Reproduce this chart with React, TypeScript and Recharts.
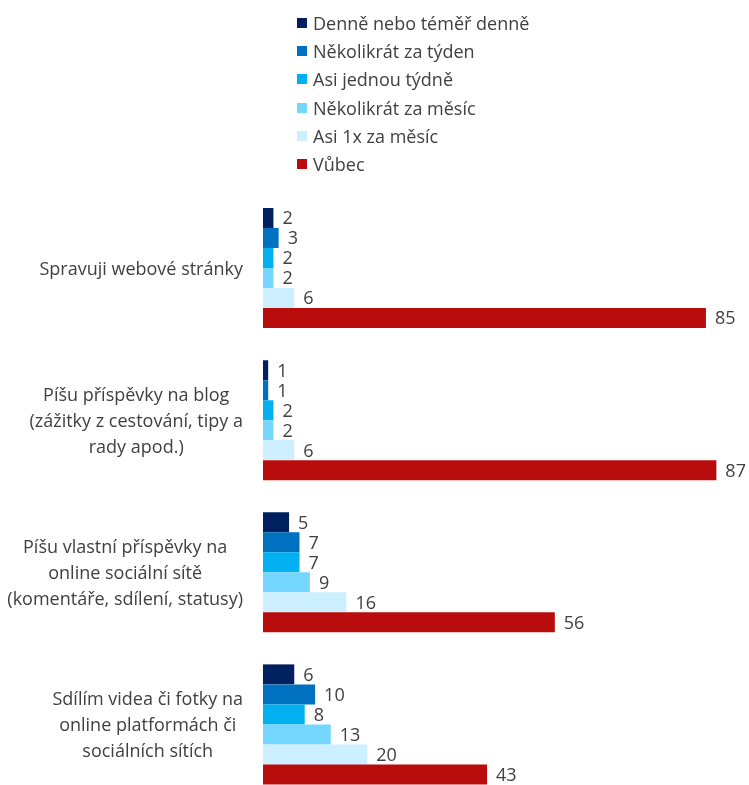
import { Bar, BarChart, LabelList, Legend, XAxis, YAxis } from 'recharts';

const CATEGORIES = [
  'Spravuji webové stránky',
  'Píšu příspěvky na blog\n(zážitky z cestování, tipy a\nrady apod.)',
  'Píšu vlastní příspěvky na\nonline sociální sítě\n(komentáře, sdílení, statusy)',
  'Sdílím videa či fotky na\nonline platformách či\nsociálních sítích',
];

const SERIES_NAMES = [
  'Denně nebo téměř denně',
  'Několikrát za týden',
  'Asi jednou týdně',
  'Několikrát za měsíc',
  'Asi 1x za měsíc',
  'Vůbec',
];

const DAILY = [2, 1, 5, 6];
const FEW_PER_WEEK = [3, 1, 7, 10];
const ONCE_WEEK = [2, 2, 7, 8];
const FEW_PER_MONTH = [2, 2, 9, 13];
const ONCE_MONTH = [6, 6, 16, 20];
const NEVER = [85, 87, 56, 43];

const COLORS = ['#002060', '#0070C0', '#00B0F0', '#75D6FF', '#CCF0FF', '#B90C0C'];

const FONT = '"Open Sans", sans-serif';
const TEXT = '#404040';
const FONT_SIZE = 18;

const SERIES = [DAILY, FEW_PER_WEEK, ONCE_WEEK, FEW_PER_MONTH, ONCE_MONTH, NEVER];
const KEYS = SERIES.map((_, i) => `s${i}`);

const data = CATEGORIES.map((category, ci) => {
  const row: Record<string, string | number> = { category };
  SERIES.forEach((values, si) => {
    row[KEYS[si]] = values[ci];
  });
  return row;
});

let ctx: CanvasRenderingContext2D | null = null;
function textWidth(s: string) {
  if (!ctx) ctx = document.createElement('canvas').getContext('2d');
  if (!ctx) return s.length * 9;
  ctx.font = `${FONT_SIZE}px ${FONT}`;
  return ctx.measureText(s).width;
}

// excel-style label: lines centred inside a block that is right-aligned to the axis
function CategoryTick(props: any) {
  const { x, y, payload } = props;
  const lines = String(payload.value).split('\n');
  const blockW = Math.max(...lines.map(textWidth));
  const cx = x - blockW / 2;
  const lh = 26;
  const y0 = y - ((lines.length - 1) * lh) / 2;
  return (
    <text x={cx} y={y0} textAnchor="middle" fill={TEXT} fontSize={FONT_SIZE} fontFamily={FONT}>
      {lines.map((l, i) => (
        <tspan key={i} x={cx} y={y0 + i * lh} dy="0.35em">
          {l}
        </tspan>
      ))}
    </text>
  );
}

// keep the series order (recharts sorts legend items by name otherwise)
function LegendList() {
  return (
    <ul style={{ listStyle: 'none', margin: 0, padding: 0 }}>
      {SERIES_NAMES.map((name, i) => (
        <li
          key={name}
          style={{ display: 'flex', alignItems: 'center', height: 28.2, color: TEXT, fontSize: FONT_SIZE, whiteSpace: 'nowrap' }}
        >
          <span style={{ width: 10, height: 10, background: COLORS[i], marginRight: 6, display: 'inline-block' }} />
          {name}
        </li>
      ))}
    </ul>
  );
}

export default function App() {
  return (
    <div style={{ position: 'fixed', left: 8, top: 8, fontFamily: FONT }}>
      <BarChart
        width={741}
        height={793}
        data={data}
        layout="vertical"
        margin={{ top: 184.5, right: 17, bottom: 0, left: 0 }}
        barCategoryGap={15.5}
        barGap={0}
      >
        <XAxis type="number" domain={[0, 90]} hide />
        <YAxis
          type="category"
          dataKey="category"
          width={255}
          axisLine={false}
          tickLine={false}
          tickSize={0}
          tickMargin={20}
          tick={CategoryTick}
        />
        <Legend
          layout="vertical"
          align="center"
          verticalAlign="middle"
          wrapperStyle={{ top: 1, left: 289, width: 'auto' }}
          content={LegendList}
        />
        {KEYS.map((k, i) => (
          <Bar key={k} dataKey={k} name={SERIES_NAMES[i]} fill={COLORS[i]} isAnimationActive={false}>
            <LabelList
              dataKey={k}
              position="right"
              offset={9}
              fill={TEXT}
              fontSize={FONT_SIZE}
              fontFamily={FONT}
            />
          </Bar>
        ))}
      </BarChart>
    </div>
  );
}
